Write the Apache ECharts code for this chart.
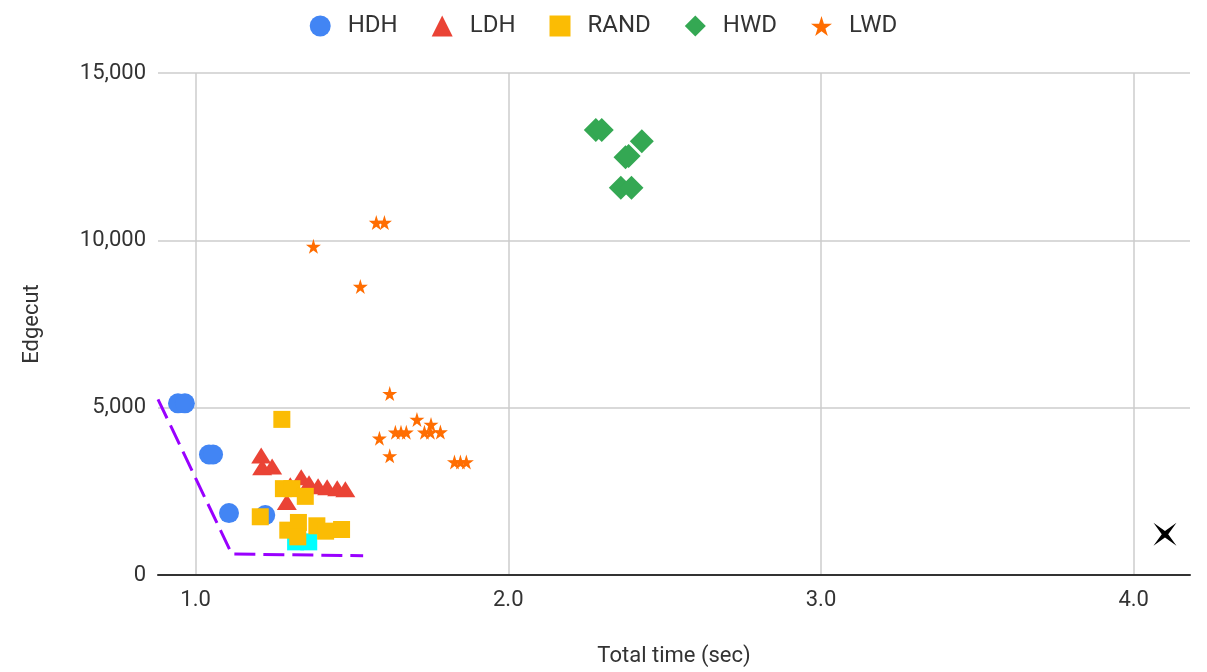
<!DOCTYPE html>
<html>
<head>
<meta charset="utf-8">
<script src="https://cdn.jsdelivr.net/npm/echarts@6/dist/echarts.min.js"></script>
<style>
  html, body { margin: 0; padding: 0; background: #fff; }
  #main { width: 1207px; height: 672px; }
</style>
</head>
<body>
<div id="main"></div>
<script>
// 图例名称
var seriesNames = ['HDH', 'LDH', 'RAND', 'HWD', 'LWD'];

// 各系列数据: 总时间(秒) / Edgecut
var hdhTime = [0.944, 0.966, 1.043, 1.056, 1.107, 1.223];
var hdhEdgecut = [5130, 5130, 3600, 3600, 1850, 1790];

var ldhTime = [1.210, 1.213, 1.245, 1.292, 1.303, 1.338, 1.363, 1.392, 1.421, 1.453, 1.479];
var ldhEdgecut = [3570, 3220, 3240, 2180, 2680, 2920, 2740, 2650, 2620, 2590, 2560];

var randTime = [1.207, 1.276, 1.281, 1.308, 1.351, 1.295, 1.329, 1.327, 1.388, 1.416, 1.467];
var randEdgecut = [1740, 4650, 2580, 2580, 2350, 1340, 1570, 1140, 1470, 1310, 1360];

var hwdTime = [2.280, 2.299, 2.427, 2.375, 2.385, 2.360, 2.394];
var hwdEdgecut = [13300, 13300, 12960, 12480, 12520, 11570, 11570];

var lwdTime = [1.377, 1.527, 1.578, 1.604, 1.621, 1.588, 1.621, 1.639, 1.657, 1.674, 1.708, 1.732, 1.751, 1.753, 1.783, 1.828, 1.847, 1.866];
var lwdEdgecut = [9820, 8620, 10530, 10530, 5420, 4085, 3560, 4265, 4265, 4265, 4650, 4265, 4265, 4500, 4270, 3380, 3380, 3380];

// 高亮点 (青色)
var bestTime = [1.320, 1.362];
var bestEdgecut = [990, 990];

// 虚线 (紫色)
var frontierTime = [0.88, 1.116, 1.536];
var frontierEdgecut = [5250, 626, 576];

// 黑色四角星
var markTime = [4.10];
var markEdgecut = [1220];

// 坐标轴刻度
var xTicks = [1, 2, 3, 4];
var xRange = [0.88, 4.18];
var yRange = [0, 15000];
var yStep = 5000;

function zip(xs, ys) {
    var out = [];
    for (var i = 0; i < xs.length; i++) {
        out.push([xs[i], ys[i]]);
    }
    return out;
}

var starPath = 'path://M50,0 L61,35 L98,35 L68,57 L79,91 L50,70 L21,91 L32,57 L2,35 L39,35 Z';
var star4Path = 'path://M0,0 L50,36 L100,0 L64,50 L100,100 L50,64 L0,100 L36,50 Z';
var font = 'Roboto, "Liberation Sans", Arial, sans-serif';

var myChart = echarts.init(document.getElementById('main'), null, { renderer: 'canvas' });
myChart.setOption({
    animation: false,
    textStyle: { fontFamily: font },
    legend: {
        data: seriesNames,
        top: 9,
        left: 'center',
        itemWidth: 21,
        itemHeight: 21,
        itemGap: 34,
        textStyle: {
            fontSize: 24,
            color: '#333',
            fontFamily: font,
            padding: [0, 0, 0, 12]
        }
    },
    grid: {
        left: 158,
        right: 17,
        top: 73,
        bottom: 96,
        containLabel: false
    },
    xAxis: {
        type: 'value',
        min: xRange[0],
        max: xRange[1],
        name: 'Total time (sec)',
        nameLocation: 'middle',
        nameGap: 70,
        nameTextStyle: { fontSize: 22, color: '#333', fontFamily: font },
        axisLine: { show: true, onZero: false, lineStyle: { color: '#333', width: 2 } },
        axisTick: { show: false, customValues: xTicks },
        axisLabel: {
            customValues: xTicks,
            margin: 14,
            fontSize: 22,
            color: '#333',
            fontFamily: font,
            formatter: function (v) { return v.toFixed(1); }
        },
        splitLine: { show: true, lineStyle: { color: '#cccccc', width: 1.5 } }
    },
    yAxis: {
        type: 'value',
        min: yRange[0],
        max: yRange[1],
        interval: yStep,
        name: 'Edgecut',
        nameLocation: 'middle',
        nameGap: 115,
        nameTextStyle: { fontSize: 22, color: '#333', fontFamily: font },
        axisLine: { show: false },
        axisTick: { show: false },
        axisLabel: {
            margin: 12,
            fontSize: 22,
            color: '#333',
            fontFamily: font,
            formatter: function (v) { return v.toLocaleString('en-US'); }
        },
        splitLine: { show: true, lineStyle: { color: '#cccccc', width: 1.5 } }
    },
    series: [
        {
            name: 'HDH', type: 'scatter', symbol: 'circle', symbolSize: 20,
            itemStyle: { color: '#4285f4', opacity: 1 },
            data: zip(hdhTime, hdhEdgecut)
        },
        {
            name: 'LDH', type: 'scatter', symbol: 'triangle', symbolSize: [20, 16],
            itemStyle: { color: '#ea4335', opacity: 1 },
            data: zip(ldhTime, ldhEdgecut)
        },
        {
            name: 'best', type: 'scatter', symbol: 'rect', symbolSize: 17,
            itemStyle: { color: '#00ffff', opacity: 1 },
            data: zip(bestTime, bestEdgecut)
        },
        {
            name: 'RAND', type: 'scatter', symbol: 'rect', symbolSize: 17,
            itemStyle: { color: '#fbbc04', opacity: 1 },
            data: zip(randTime, randEdgecut)
        },
        {
            name: 'HWD', type: 'scatter', symbol: 'diamond', symbolSize: 24,
            itemStyle: { color: '#34a853', opacity: 1 },
            data: zip(hwdTime, hwdEdgecut)
        },
        {
            name: 'LWD', type: 'scatter', symbol: starPath, symbolSize: 15,
            itemStyle: { color: '#ff6d01', opacity: 1 },
            data: zip(lwdTime, lwdEdgecut)
        },
        {
            name: 'frontier', type: 'line', symbol: 'none',
            lineStyle: { color: '#9900ff', width: 3, type: [21, 8] },
            data: zip(frontierTime, frontierEdgecut)
        },
        {
            name: 'mark', type: 'scatter', symbol: star4Path, symbolSize: 23,
            itemStyle: { color: '#000000', opacity: 1 },
            data: zip(markTime, markEdgecut)
        }
    ]
});
</script>
</body>
</html>
